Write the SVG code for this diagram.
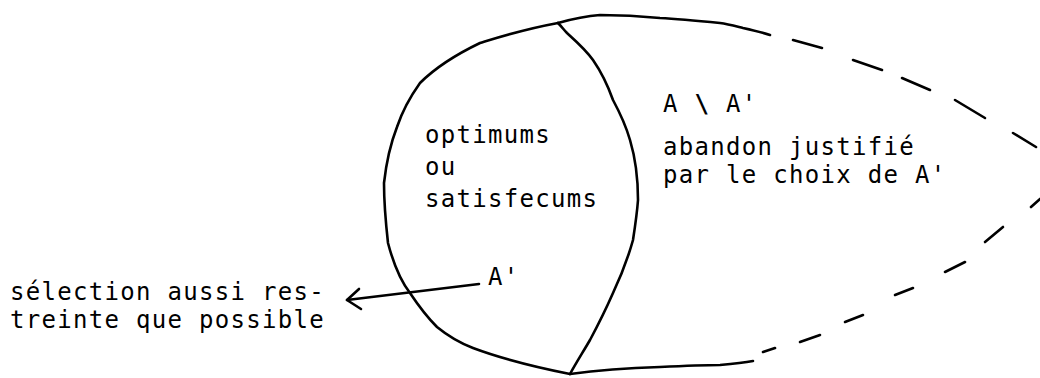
<svg xmlns="http://www.w3.org/2000/svg" width="1040" height="378" viewBox="0 0 1040 378">
<style>
.ln{fill:none;stroke:#000;stroke-width:2.6;stroke-linecap:round;stroke-linejoin:round}
.t{font-family:"DejaVu Sans Mono","Liberation Mono",monospace;font-size:24px;fill:#000;letter-spacing:1.3px}
</style>
<rect width="1040" height="378" fill="#fff"/>
<g id="set-A-prime">
<path class="ln" d="M558,23 C520,30 490,40 480,43 C455,55 435,68 420,83 C410,97 402,112 397,127 C390,145 386,165 384,183 C384,205 386,225 388,243 C393,262 400,280 410,293 C418,305 427,317 437,327 C448,336 460,343 473,348 C505,360 540,368 570,374"/>
<text class="t" x="425" y="143">optimums</text>
<text class="t" x="425" y="175">ou</text>
<text class="t" x="425" y="207">satisfecums</text>
<text class="t" x="488" y="285">A'</text>
</g>
<g id="set-A-minus-A-prime">
<path class="ln" d="M558,23 C562,27 564,30 567,33 C577,42 586,50 593,60 C602,73 608,86 613,100 C620,113 626,126 630,140 C636,160 638,180 638,200 C637,214 635,227 633,240 C628,258 621,276 613,293 C606,309 598,325 590,340 C583,352 576,363 570,374"/>
<path class="ln" d="M558,23 C572,19 586,16 600,15 C620,15 640,16 660,18 C680,19 700,21 720,23 C728,24 735,26 743,28 C752,30 761,32 770,35"/>
<path class="ln" d="M570,374 C600,370 630,368 660,367 C680,366 700,365 720,365 C731,364 742,363 753,361"/>
<g class="ln">
<path d="M793,40 L822,48"/>
<path d="M853,60 L882,70"/>
<path d="M902,78 L930,90"/>
<path d="M955,100 L985,118"/>
<path d="M1013,133 L1036,147"/>
<path d="M1031,207 L1040,199"/>
<path d="M985,242 L1003,227"/>
<path d="M945,272 L965,262"/>
<path d="M895,295 L913,288"/>
<path d="M845,322 L863,315"/>
<path d="M800,342 L820,335"/>
<path d="M763,352 L775,348"/>
</g>
<text class="t" x="663" y="112">A <tspan font-weight="bold">\</tspan> A'</text>
<text class="t" x="663" y="155">abandon justifié</text>
<text class="t" x="663" y="183">par le choix de A'</text>
</g>
<g id="label-selection">
<text class="t" x="10" y="300">sélection aussi res-</text>
<text class="t" x="10" y="328">treinte que possible</text>
</g>
<g id="connectors">
<path class="ln" d="M479,284 L347,300"/>
<path class="ln" d="M359,289 L347,300 L361,309"/>
</g>
</svg>
